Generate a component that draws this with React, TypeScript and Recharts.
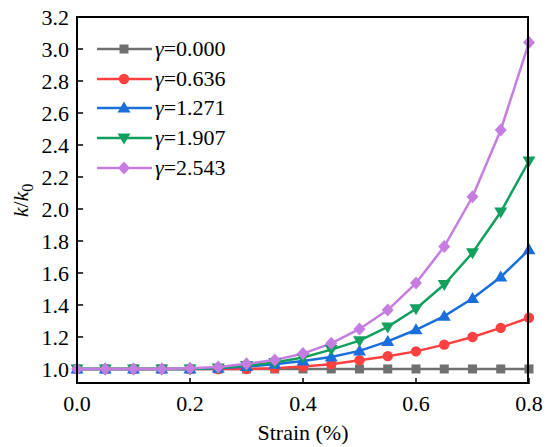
import { LineChart, Line, XAxis, YAxis, Label, ReferenceLine } from "recharts";

const strain = [0, 0.05, 0.1, 0.15, 0.2, 0.25, 0.3, 0.35, 0.4, 0.45, 0.5, 0.55, 0.6, 0.65, 0.7, 0.75, 0.8];
const g0000 = [1, 1, 1, 1, 1, 1, 1, 1, 1, 1, 1, 1, 1, 1, 1, 1, 1];
const g0636 = [1, 1, 1, 1, 1, 1, 1.0, 1.005, 1.015, 1.03, 1.055, 1.08, 1.11, 1.152, 1.2, 1.257, 1.32];
const g1271 = [1, 1, 1, 1, 1, 1.004, 1.015, 1.03, 1.05, 1.075, 1.113, 1.172, 1.245, 1.33, 1.44, 1.575, 1.745];
const g1907 = [1, 1, 1, 1, 1, 1.006, 1.022, 1.04, 1.072, 1.121, 1.177, 1.263, 1.376, 1.528, 1.726, 1.981, 2.3];
const g2543 = [1, 1, 1, 1, 1.004, 1.013, 1.032, 1.056, 1.096, 1.16, 1.25, 1.368, 1.537, 1.765, 2.076, 2.494, 3.04];

const xTicks = [0, 0.2, 0.4, 0.6, 0.8];
const yTicks = [1.0, 1.2, 1.4, 1.6, 1.8, 2.0, 2.2, 2.4, 2.6, 2.8, 3.0, 3.2];
const xDomain = [0, 0.8];
const yDomain = [0.906, 3.2];

const seriesNames = ["γ=0.000", "γ=0.636", "γ=1.271", "γ=1.907", "γ=2.543"];
const seriesKeys = ["s0", "s1", "s2", "s3", "s4"];
const seriesColors = ["#707070", "#ff4040", "#1a6fdc", "#12a05e", "#c67de2"];
const seriesShapes = ["square", "circle", "up", "down", "diamond"];

const data = strain.map((x, i) => ({
  x,
  s0: g0000[i],
  s1: g0636[i],
  s2: g1271[i],
  s3: g1907[i],
  s4: g2543[i],
}));

const FONT = "Liberation Serif, Times New Roman, serif";
const tickStyle = { fontFamily: FONT, fontSize: 22, fill: "#000" };
const fmt = (v: number) => v.toFixed(1);

// inward tick length in data units (about 6px)
const xTickLen = 0.0375;
const yTickLen = 0.0107;

function Marker({ shape, cx, cy, color }: { shape: string; cx: number; cy: number; color: string }) {
  if (cx == null || cy == null) return null;
  if (shape === "square") return <rect x={cx - 4.5} y={cy - 4.5} width={9} height={9} fill={color} />;
  if (shape === "circle") return <circle cx={cx} cy={cy} r={5.2} fill={color} />;
  if (shape === "up")
    return <polygon points={`${cx},${cy - 6.5} ${cx + 6.5},${cy + 4.5} ${cx - 6.5},${cy + 4.5}`} fill={color} />;
  if (shape === "down")
    return <polygon points={`${cx},${cy + 6.5} ${cx + 6.5},${cy - 4.5} ${cx - 6.5},${cy - 4.5}`} fill={color} />;
  return <polygon points={`${cx},${cy - 6.5} ${cx + 6},${cy} ${cx},${cy + 6.5} ${cx - 6},${cy}`} fill={color} />;
}

function LegendBox() {
  return (
    <div style={{ position: "absolute", left: 95, top: 34, fontFamily: FONT, fontSize: 22, color: "#000" }}>
      {seriesNames.map((name, i) => (
        <div key={name} style={{ display: "flex", alignItems: "center", height: 29.8 }}>
          <svg width={58} height={20} style={{ display: "block" }}>
            <line x1={2} x2={57} y1={10} y2={10} stroke={seriesColors[i]} strokeWidth={2.5} />
            <Marker shape={seriesShapes[i]} cx={29} cy={10} color={seriesColors[i]} />
          </svg>
          <span style={{ marginLeft: 2, lineHeight: "22px" }}>
            <i>γ</i>
            {name.slice(1)}
          </span>
        </div>
      ))}
    </div>
  );
}

function YLabel(props: any) {
  const { viewBox } = props;
  const cy = viewBox.y + viewBox.height / 2;
  const cx = 28;
  return (
    <text
      transform={`translate(${cx},${cy}) rotate(-90)`}
      textAnchor="middle"
      fontFamily={FONT}
      fontSize={22}
      fill="#000"
    >
      <tspan fontStyle="italic">k</tspan>
      <tspan>/</tspan>
      <tspan fontStyle="italic">k</tspan>
      <tspan fontSize={16} dy={5}>0</tspan>
    </text>
  );
}

export default function App() {
  return (
    <div style={{ position: "absolute", left: 0, top: 0, width: 550, height: 447, background: "#fff" }}>
      <LineChart width={550} height={447} data={data} margin={{ top: 17, right: 21, bottom: 0, left: 0 }}>
        <XAxis
          dataKey="x"
          type="number"
          domain={xDomain}
          ticks={xTicks}
          height={63}
          tickSize={0}
          tickMargin={11}
          tickLine={false}
          axisLine={false}
          tick={tickStyle}
          tickFormatter={fmt}
          interval={0}
        >
          <Label value="Strain (%)" position="insideBottom" offset={7} style={tickStyle} />
        </XAxis>
        <YAxis
          type="number"
          domain={yDomain}
          ticks={yTicks}
          width={77}
          tickSize={0}
          tickMargin={8}
          tickLine={false}
          axisLine={false}
          tick={tickStyle}
          tickFormatter={fmt}
          interval={0}
          allowDataOverflow
        >
          <Label content={<YLabel />} />
        </YAxis>
        {xTicks.map((t) => (
          <ReferenceLine
            key={`xt-${t}`}
            segment={[
              { x: t, y: yDomain[0] },
              { x: t, y: yDomain[0] + xTickLen },
            ]}
            stroke="#000"
            strokeWidth={1.5}
            ifOverflow="visible"
          />
        ))}
        {yTicks.map((t) => (
          <ReferenceLine
            key={`yt-${t}`}
            segment={[
              { x: xDomain[0], y: t },
              { x: xDomain[0] + yTickLen, y: t },
            ]}
            stroke="#000"
            strokeWidth={1.5}
            ifOverflow="visible"
          />
        ))}
        {seriesKeys.map((key, i) => (
          <Line
            key={key}
            dataKey={key}
            name={seriesNames[i]}
            type="linear"
            stroke={seriesColors[i]}
            strokeWidth={2.5}
            isAnimationActive={false}
            dot={(p: any) => <Marker key={`${key}-${p.index}`} shape={seriesShapes[i]} cx={p.cx} cy={p.cy} color={seriesColors[i]} />}
            activeDot={false}
          />
        ))}
      </LineChart>
      <div
        style={{
          position: "absolute",
          left: 76,
          top: 16,
          width: 453,
          height: 368,
          border: "2px solid black",
          boxSizing: "border-box",
          pointerEvents: "none",
        }}
      />
      <LegendBox />
    </div>
  );
}
